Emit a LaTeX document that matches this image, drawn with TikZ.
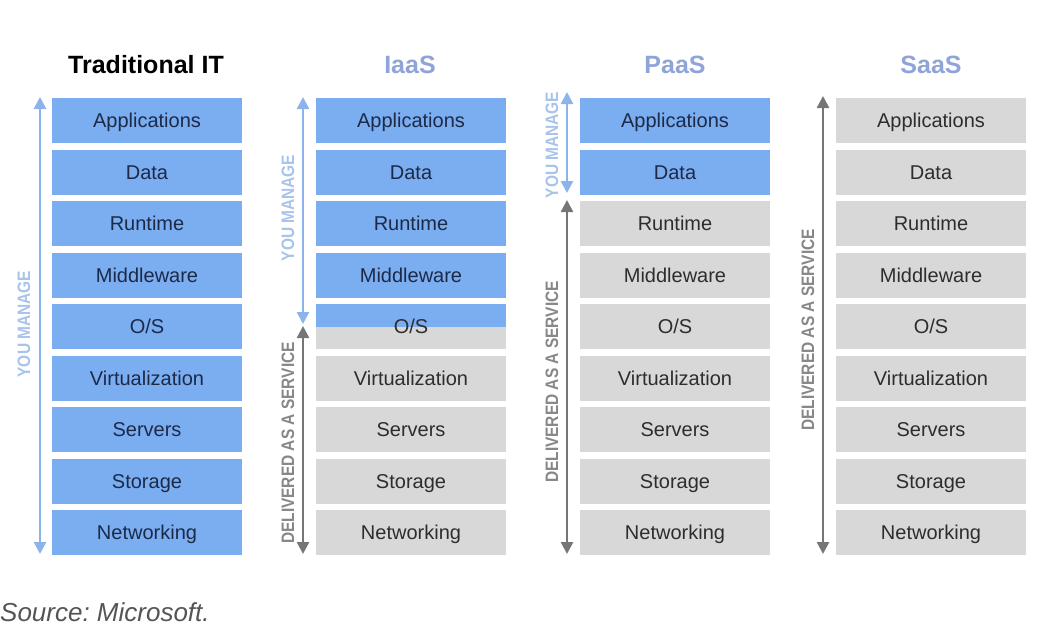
\documentclass[tikz,border=0pt]{standalone}
\usepackage{fontspec}
\setmainfont{Liberation Sans}
\newfontfamily\narrowfont[FakeStretch=0.86]{Liberation Sans}
\usetikzlibrary{arrows.meta}
\definecolor{boxblue}{RGB}{123,173,241}
\definecolor{boxgray}{RGB}{216,216,216}
\definecolor{txtblue}{RGB}{28,42,72}
\definecolor{txtgray}{RGB}{45,45,45}
\definecolor{arrblue}{RGB}{141,179,236}
\definecolor{arrgray}{RGB}{118,118,118}
\definecolor{lblblue}{RGB}{168,195,236}
\definecolor{lblgray}{RGB}{135,135,135}
\definecolor{titleblue}{RGB}{143,164,216}
\definecolor{srcgray}{RGB}{85,85,85}
\tikzset{
  layer/.style={minimum width=190pt, minimum height=45pt, inner sep=0pt, text height=14pt, text depth=0pt, font=\fontsize{20}{22}\selectfont},
  bl/.style={layer, fill=boxblue, text=txtblue},
  gr/.style={layer, fill=boxgray, text=txtgray},
  title/.style={font=\fontsize{25}{28}\selectfont\bfseries},
  arrowblue/.style={draw=arrblue, line width=2.5pt, {Triangle[width=12pt,length=12pt]}-{Triangle[width=12pt,length=12pt]}},
  arrowgray/.style={draw=arrgray, line width=2.5pt, {Triangle[width=12pt,length=12pt]}-{Triangle[width=12pt,length=12pt]}},
  vlab/.style={rotate=90, inner sep=0pt, font=\fontsize{18}{20}\narrowfont\bfseries},
}
\begin{document}
\begin{tikzpicture}[x=1pt,y=-1pt]
\useasboundingbox[fill=white] (0,0) rectangle (1051,626);
% titles
\node[title, text=black] (tt) at (146,65) {Traditional IT};
\node[title, text=titleblue] (ti) at (410,65) {IaaS};
\node[title, text=titleblue] (tp) at (675,65) {PaaS};
\node[title, text=titleblue] (ts) at (931,65) {SaaS};
% Traditional IT
\foreach \i/\name in {0/Applications,1/Data,2/Runtime,3/Middleware,4/O\slash S,5/Virtualization,6/Servers,7/Storage,8/Networking}{
  \node[bl] (a\i) at (147,120.5+51.5*\i) {\name};
}
% IaaS
\foreach \i/\name in {0/Applications,1/Data,2/Runtime,3/Middleware}{
  \node[bl] (b\i) at (411,120.5+51.5*\i) {\name};
}
\node[gr, path picture={\fill[boxblue] (path picture bounding box.north west) rectangle (path picture bounding box.east);}] (b4) at (411,326.5) {O/S};
\foreach \i/\name in {5/Virtualization,6/Servers,7/Storage,8/Networking}{
  \node[gr] (b\i) at (411,120.5+51.5*\i) {\name};
}
% PaaS
\foreach \i/\name in {0/Applications,1/Data}{
  \node[bl] (c\i) at (675,120.5+51.5*\i) {\name};
}
\foreach \i/\name in {2/Runtime,3/Middleware,4/O\slash S,5/Virtualization,6/Servers,7/Storage,8/Networking}{
  \node[gr] (c\i) at (675,120.5+51.5*\i) {\name};
}
% SaaS
\foreach \i/\name in {0/Applications,1/Data,2/Runtime,3/Middleware,4/O\slash S,5/Virtualization,6/Servers,7/Storage,8/Networking}{
  \node[gr] (d\i) at (931,120.5+51.5*\i) {\name};
}
% arrow end points
\coordinate (ta1) at (40,97);   \coordinate (ta2) at (40,554);
\coordinate (ia1) at (303,97);  \coordinate (ia2) at (303,324);
\coordinate (ig1) at (303,326); \coordinate (ig2) at (303,554);
\coordinate (pa1) at (567,92);  \coordinate (pa2) at (567,193);
\coordinate (pg1) at (567,200); \coordinate (pg2) at (567,554);
\coordinate (sg1) at (823,96);  \coordinate (sg2) at (823,554);
\draw[arrowblue] (ta1) -- (ta2);
\draw[arrowblue] (ia1) -- (ia2);
\draw[arrowgray] (ig1) -- (ig2);
\draw[arrowblue] (pa1) -- (pa2);
\draw[arrowgray] (pg1) -- (pg2);
\draw[arrowgray] (sg1) -- (sg2);
% vertical labels
\node[vlab, text=lblblue] (l1) at (24,324) {YOU MANAGE};
\node[vlab, text=lblblue] (l2) at (288,208) {YOU MANAGE};
\node[vlab, text=lblgray] (l3) at (288,443) {DELIVERED AS A SERVICE};
\node[vlab, text=lblblue] (l4) at (552,145) {YOU MANAGE};
\node[vlab, text=lblgray] (l5) at (552,382) {DELIVERED AS A SERVICE};
\node[vlab, text=lblgray] (l6) at (808,330) {DELIVERED AS A SERVICE};
% source
\node[anchor=base west, inner sep=0pt, text=srcgray, font=\fontsize{26}{28}\selectfont\itshape] (src) at (0,621) {\frenchspacing Source: Microsoft.};
\end{tikzpicture}
\end{document}
